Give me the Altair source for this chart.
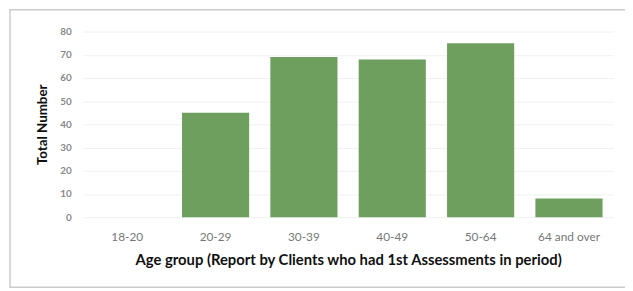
import altair as alt
import pandas as pd

categories = ["18-20", "20-29", "30-39", "40-49", "50-64", "64 and over"]
values = [0, 45, 69, 68, 75, 8]

df = pd.DataFrame({"group": categories, "count": values})

W, H = 537, 188

bars = alt.Chart(df).mark_bar(color="#6f9f5e").encode(
    x=alt.X("group:N", sort=categories,
            scale=alt.Scale(paddingInner=0.24, paddingOuter=0.12),
            axis=alt.Axis(title="Age group (Report by Clients who had 1st Assessments in period)",
                          labelAngle=0, labelColor="#777777", labelFontSize=12,
                          labelFont="Lato", labelPadding=15,
                          titleFont="Lato", titleFontSize=15, titleFontWeight="bold",
                          titleColor="#111111", titlePadding=10,
                          domain=False, ticks=False)),
    y=alt.Y("count:Q", scale=alt.Scale(domain=[0, 80]),
            axis=alt.Axis(title="Total Number", values=list(range(0, 81, 10)),
                          labelColor="#888888", labelFontSize=10, labelFont="Lato",
                          labelFontWeight="bold", labelPadding=12,
                          titleFont="Lato", titleFontSize=13.5, titleFontWeight="bold",
                          titleColor="#111111", titlePadding=10,
                          domain=False, ticks=False, gridColor="#f0f0f0")),
)

frame = alt.Chart(pd.DataFrame({"a": [0]})).mark_rect(
    fill=None, stroke="#cccccc", strokeWidth=1.5, clip=False
).encode(
    x=alt.value(-74), x2=alt.value(W + 30),
    y=alt.value(-22), y2=alt.value(H + 71),
)

chart = alt.layer(frame, bars).properties(
    width=W, height=H,
    autosize=alt.AutoSizeParams(type="none"),
    padding={"left": 76, "top": 22, "right": 12, "bottom": 75},
).configure_view(stroke=None)

chart.save("out.html", embed_options={"renderer": "svg", "actions": False})
